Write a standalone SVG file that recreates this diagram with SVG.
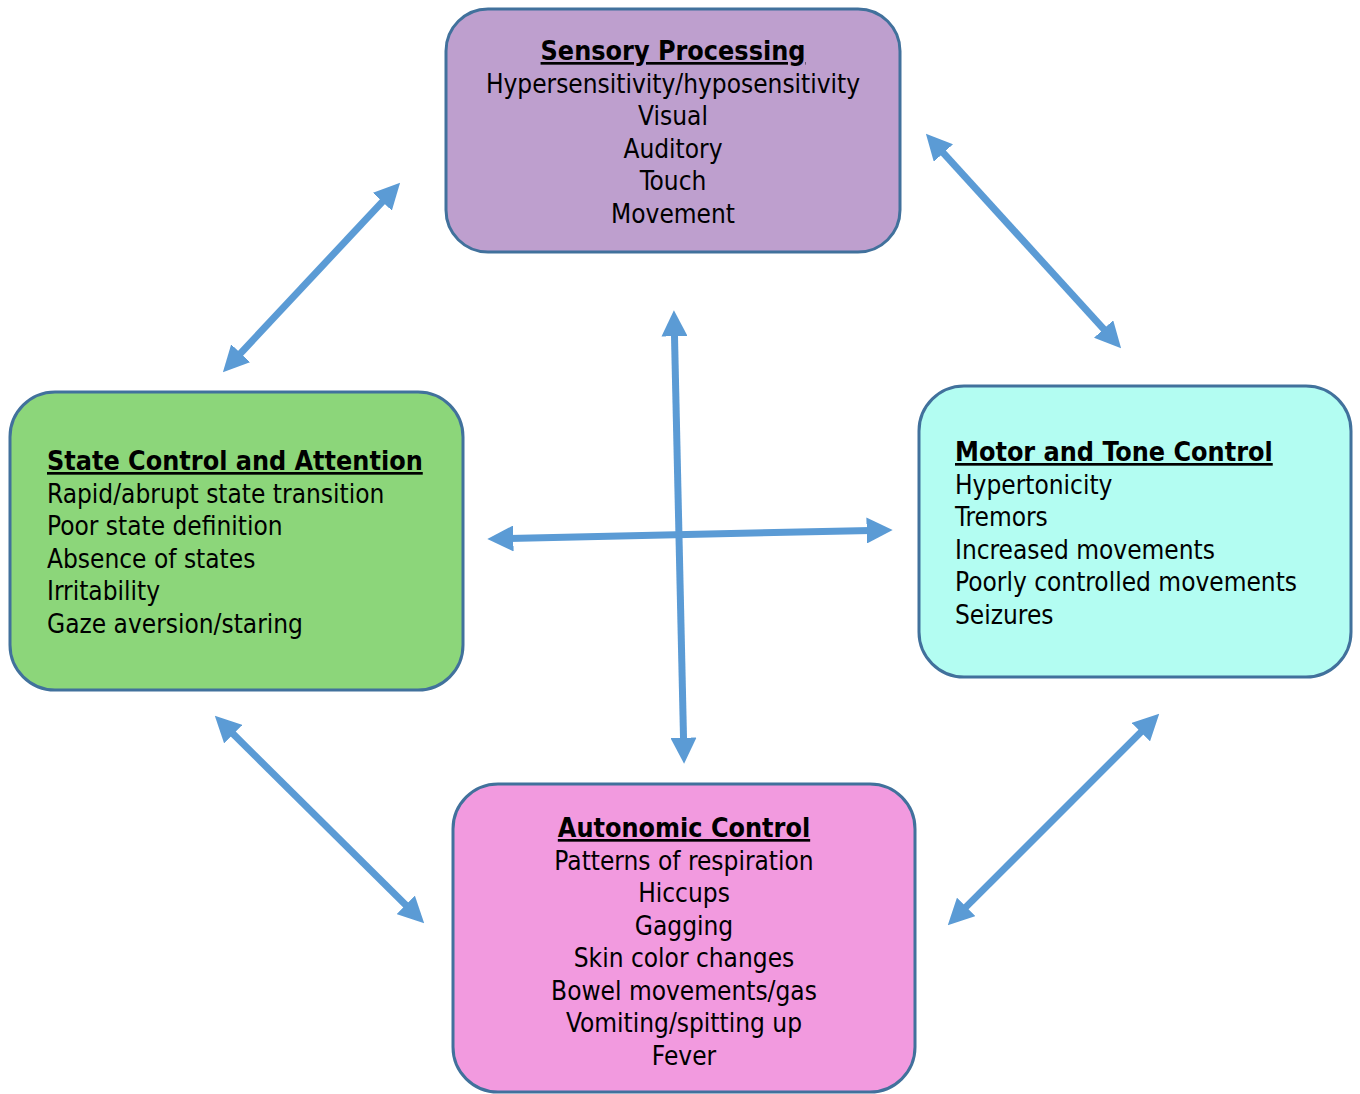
<svg xmlns="http://www.w3.org/2000/svg" width="1360" height="1094" viewBox="0 0 1360 1094">
<defs>
<style>
.box{stroke:#41719C;stroke-width:3}
.t{font-family:"DejaVu Sans","Liberation Sans",sans-serif;font-stretch:condensed;font-size:26px;fill:#000}
.h{font-weight:bold;text-decoration:underline;font-size:26.7px}
.c{text-anchor:middle}
.arr{stroke:#5B9BD5;stroke-width:7;fill:none;marker-start:url(#ah);marker-end:url(#ah)}
</style>
<marker id="ah" markerUnits="userSpaceOnUse" markerWidth="26" markerHeight="26" refX="4" refY="12" orient="auto-start-reverse" viewBox="0 0 24 24">
<path d="M0,0 L24,12 L0,24 z" fill="#5B9BD5"/>
</marker>
</defs>
<rect width="1360" height="1094" fill="#fff"/>
<g id="connectors">
<line class="arr" x1="237.7" y1="356.4" x2="385.3" y2="198.6"/>
<line class="arr" x1="940.5" y1="149.8" x2="1106.5" y2="332.2"/>
<line class="arr" x1="230.2" y1="731.1" x2="408.8" y2="907.9"/>
<line class="arr" x1="1143.9" y1="729.1" x2="963.1" y2="909.9"/>
<line class="arr" x1="674.4" y1="332" x2="683.6" y2="742"/>
<line class="arr" x1="509" y1="538.6" x2="871" y2="530.4"/>
</g>
<g id="sensory">
<rect class="box" x="446" y="9" width="454" height="243" rx="42" fill="#BE9FCE"/>
<text class="t c" x="673"><tspan class="h" x="673" y="60">Sensory Processing</tspan><tspan x="673" y="92.5">Hypersensitivity/hyposensitivity</tspan><tspan x="673" y="125">Visual</tspan><tspan x="673" y="157.5">Auditory</tspan><tspan x="673" y="190">Touch</tspan><tspan x="673" y="222.5">Movement</tspan></text>
</g>
<g id="state">
<rect class="box" x="10" y="392" width="453" height="298" rx="45" fill="#8CD67A"/>
<text class="t"><tspan class="h" x="47" y="470">State Control and Attention</tspan><tspan x="47" y="502.5">Rapid/abrupt state transition</tspan><tspan x="47" y="535">Poor state definition</tspan><tspan x="47" y="567.5">Absence of states</tspan><tspan x="47" y="600">Irritability</tspan><tspan x="47" y="632.5">Gaze aversion/staring</tspan></text>
</g>
<g id="motor">
<rect class="box" x="919" y="386" width="432" height="291" rx="45" fill="#B3FDF2"/>
<text class="t"><tspan class="h" x="955" y="461">Motor and Tone Control</tspan><tspan x="955" y="493.5">Hypertonicity</tspan><tspan x="955" y="526">Tremors</tspan><tspan x="955" y="558.5">Increased movements</tspan><tspan x="955" y="591">Poorly controlled movements</tspan><tspan x="955" y="623.5">Seizures</tspan></text>
</g>
<g id="autonomic">
<rect class="box" x="453" y="784" width="462" height="308" rx="45" fill="#F29ADF"/>
<text class="t c"><tspan class="h" x="684" y="837">Autonomic Control</tspan><tspan x="684" y="869.5">Patterns of respiration</tspan><tspan x="684" y="902">Hiccups</tspan><tspan x="684" y="934.5">Gagging</tspan><tspan x="684" y="967">Skin color changes</tspan><tspan x="684" y="999.5">Bowel movements/gas</tspan><tspan x="684" y="1032">Vomiting/spitting up</tspan><tspan x="684" y="1064.5">Fever</tspan></text>
</g>
</svg>
